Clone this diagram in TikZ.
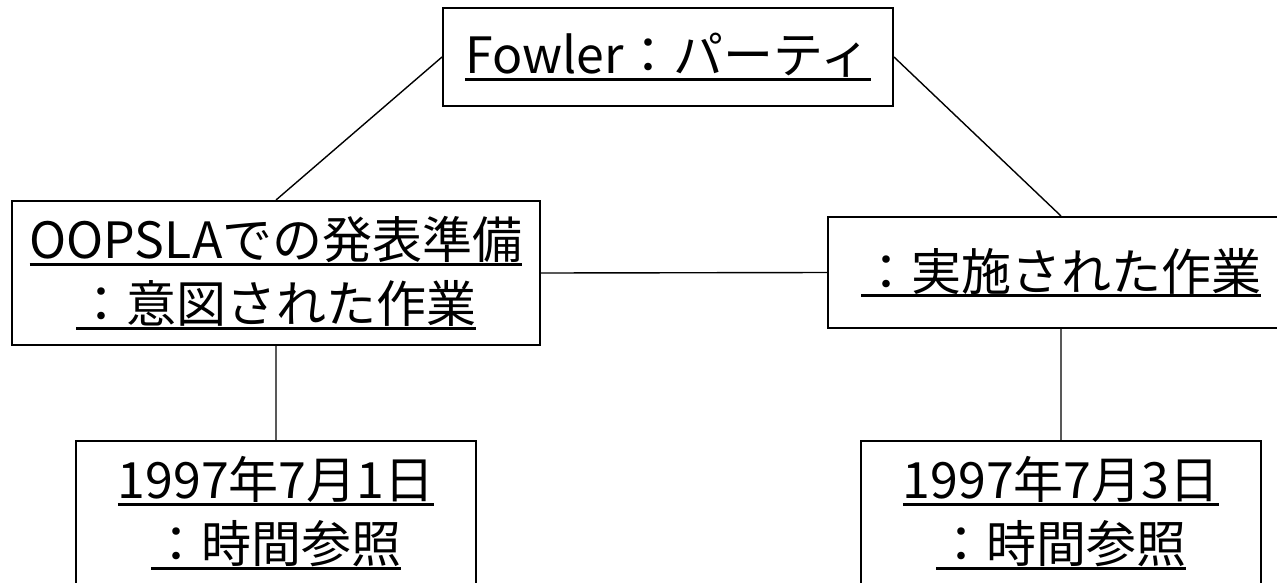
\documentclass[tikz,border=0pt]{standalone}
\usepackage{fontspec}
\newfontfamily\jpfont{Noto Sans CJK JP}
\newcommand{\objul}[1]{\setbox0=\hbox{#1}\rlap{\rule[-7pt]{\wd0}{3pt}}\box0}
\tikzset{obj/.style={draw, line width=2pt, inner sep=0pt, align=center,
    font=\jpfont\fontsize{50}{64}\selectfont}}

\begin{document}
\begin{tikzpicture}[x=1pt,y=-1pt]
            \useasboundingbox (0,0) rectangle (1277,582);
            \clip (0,0) rectangle (1277,582);
            \node[obj, minimum width=450pt, minimum height=98pt] (fowler) at (668,57)
              {\objul{Fowler：パーティ}};
            \node[obj, minimum width=528pt, minimum height=144pt] (plan) at (276,273)
              {\objul{OOPSLAでの発表準備}\\\objul{：意図された作業}};
            \node[obj, minimum width=466pt, minimum height=111pt] (done) at (1061,272.5)
              {\objul{：実施された作業}};
            \node[obj, minimum width=400pt, minimum height=144pt] (dayone) at (276,513)
              {\objul{1997年7月1日}\\\objul{：時間参照}};
            \node[obj, minimum width=400pt, minimum height=144pt] (daythree) at (1061,513)
              {\objul{1997年7月3日}\\\objul{：時間参照}};
            \draw[line width=1.4pt]
              (fowler.west) -- (plan.north)
              (fowler.east) -- (done.north)
              (plan.east) -- (done.west)
              (plan.south) -- (dayone.north)
              (done.south) -- (daythree.north);
        \end{tikzpicture}
\end{document}
